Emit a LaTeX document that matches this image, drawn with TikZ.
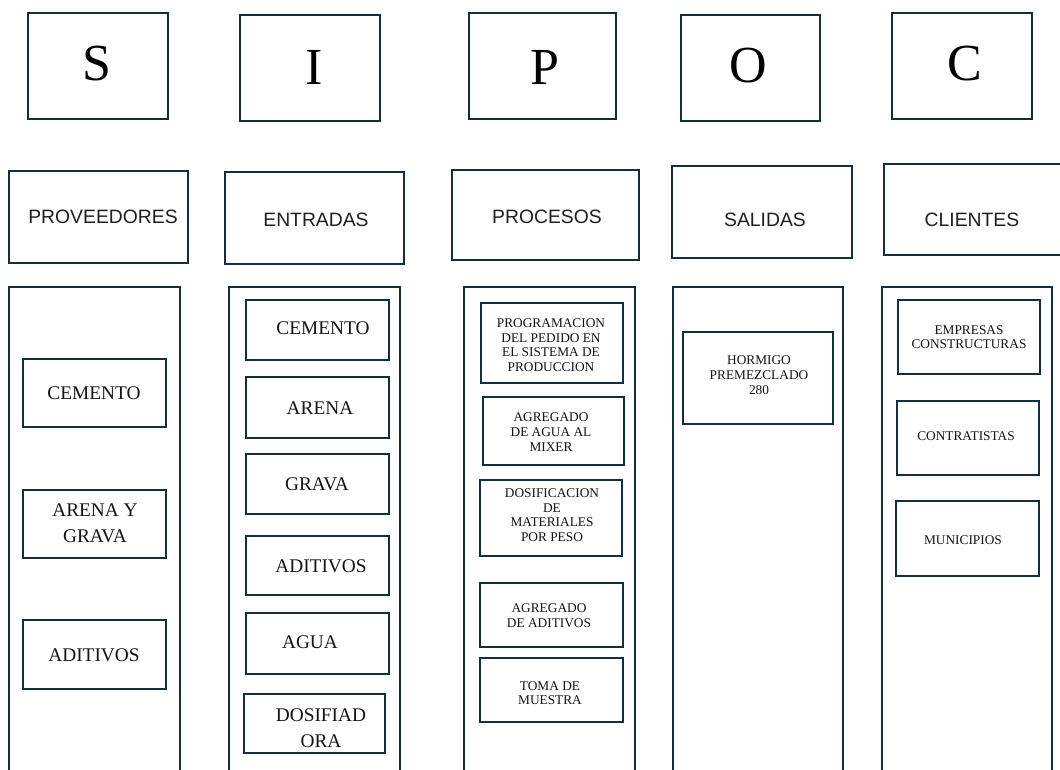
\documentclass[tikz,border=0pt]{standalone}
\usepackage{fontspec}
\setmainfont{Liberation Serif}
\newfontfamily\headsans{Liberation Sans}
\usetikzlibrary{fit}
\definecolor{edge}{RGB}{20,46,62}
\tikzset{
  frame/.style={draw=edge, line width=1.7pt, inner sep=0pt},
  bigletter/.style={font=\fontsize{39}{42}\selectfont, text=black, inner sep=0pt},
  headtext/.style={font=\headsans\fontsize{14.5}{17}\selectfont, text=black!88, inner sep=0pt},
  itemtext/.style={font=\fontsize{14.5}{19.5}\selectfont, align=center, text=black!92, inner sep=0pt},
  smalltext/.style={font=\fontsize{10}{11}\selectfont, align=center, text=black!92, inner sep=0pt},
}
% rectangle node spanning two corner points
\newcommand\boxnode[5]{\node[frame, fit={(#2,#3) (#4,#5)}] (#1) {};}

\begin{document}
\begin{tikzpicture}[x=0.75pt, y=-0.75pt]
\useasboundingbox (0,0) rectangle (1060,770);
\fill[white] (0,0) rectangle (1060,770);
\clip (0,0) rectangle (1060,770);

% letter boxes
\boxnode{bS}{28}{13}{168}{119}
\boxnode{bI}{240}{15}{380}{121}
\boxnode{bP}{469}{13}{616}{119}
\boxnode{bO}{681}{15}{820}{121}
\boxnode{bC}{892}{13}{1032}{119}
\node[bigletter] (lS) at (97,64) {S};
\node[bigletter] (lI) at (314,67) {I};
\node[bigletter] (lP) at (545,67) {P};
\node[bigletter] (lO) at (748,66) {O};
\node[bigletter] (lC) at (965,64) {C};

% header boxes
\boxnode{hS}{9}{171}{188}{263}
\boxnode{hI}{225}{172}{404}{264}
\boxnode{hP}{452}{170}{639}{260}
\boxnode{hO}{672}{166}{852}{258}
\boxnode{hC}{884}{164}{1075}{255}
\node[headtext] (tS) at (103,217) {PROVEEDORES};
\node[headtext] (tI) at (316,220) {ENTRADAS};
\node[headtext] (tP) at (547,217) {PROCESOS};
\node[headtext] (tO) at (765,220) {SALIDAS};
\node[headtext] (tC) at (972,220) {CLIENTES};

% tall columns
\boxnode{cS}{9}{287}{180}{800}
\boxnode{cI}{229}{287}{400}{800}
\boxnode{cP}{464}{287}{635}{800}
\boxnode{cO}{673}{287}{843}{800}
\boxnode{cC}{882}{287}{1052}{800}

% suppliers
\boxnode{s1}{23}{359}{166}{427}
\boxnode{s2}{23}{490}{166}{558}
\boxnode{s3}{23}{620}{166}{689}
\node[itemtext] (ts1) at (94,393) {CEMENTO};
\node[itemtext] (ts2) at (95,523) {ARENA Y\\GRAVA};
\node[itemtext] (ts3) at (94,655) {ADITIVOS};

% inputs
\boxnode{i1}{246}{300}{389}{360}
\boxnode{i2}{246}{377}{389}{438}
\boxnode{i3}{246}{454}{389}{514}
\boxnode{i4}{246}{536}{389}{595}
\boxnode{i5}{246}{613}{389}{674}
\boxnode{i6}{244}{694}{385}{753}
\node[itemtext] (ti1) at (323,328) {CEMENTO};
\node[itemtext] (ti2) at (320,408) {ARENA};
\node[itemtext] (ti3) at (317,484) {GRAVA};
\node[itemtext] (ti4) at (321,566) {ADITIVOS};
\node[itemtext] (ti5) at (310,642) {AGUA};
\node[itemtext] (ti6) at (321,728) {DOSIFIAD\\ORA};

% processes
\boxnode{p1}{481}{303}{623}{383}
\boxnode{p2}{483}{397}{624}{465}
\boxnode{p3}{480}{480}{622}{556}
\boxnode{p4}{480}{583}{623}{647}
\boxnode{p5}{480}{658}{623}{722}
\node[smalltext] (tp1) at (551,345) {PROGRAMACION\\DEL PEDIDO EN\\EL SISTEMA DE\\PRODUCCION};
\node[smalltext] (tp2) at (551,432) {AGREGADO\\DE AGUA AL\\MIXER};
\node[smalltext] (tp3) at (552,515) {DOSIFICACION\\DE\\MATERIALES\\POR PESO};
\node[smalltext] (tp4) at (549,616) {AGREGADO\\DE ADITIVOS};
\node[smalltext] (tp5) at (550,693) {TOMA DE\\MUESTRA};

% outputs
\boxnode{o1}{683}{332}{833}{424}
\node[smalltext] (to1) at (759,375) {HORMIGO\\PREMEZCLADO\\280};

% customers
\boxnode{k1}{898}{300}{1040}{374}
\boxnode{k2}{897}{401}{1039}{475}
\boxnode{k3}{896}{501}{1039}{576}
\node[smalltext] (tk1) at (969,337) {EMPRESAS\\CONSTRUCTURAS};
\node[smalltext] (tk2) at (966,436) {CONTRATISTAS};
\node[smalltext] (tk3) at (963,540) {MUNICIPIOS};
\end{tikzpicture}
\end{document}
